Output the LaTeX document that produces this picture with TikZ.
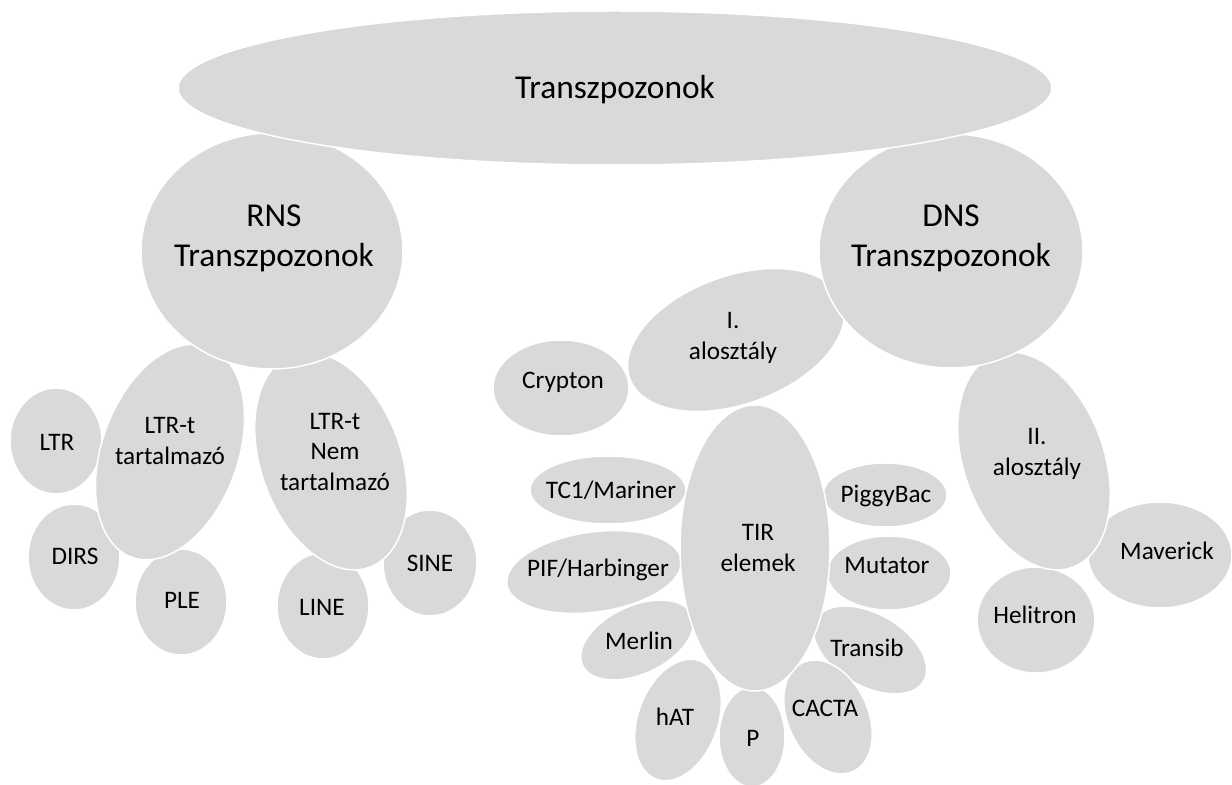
\documentclass[tikz,border=0pt]{standalone}
\usepackage{fontspec}
\setmainfont{Carlito}
\definecolor{boxgray}{HTML}{D9D9D9}
\tikzset{
  blob/.style={fill=boxgray, draw=white, line width=0.75pt},
  bigtxt/.style={font=\fontsize{16.7}{20}\selectfont, align=center, inner sep=0pt, text=black},
  smalltxt/.style={font=\fontsize{12.6}{15.4}\selectfont, align=center, inner sep=0pt, text=black}
}
\newcommand{\blobat}[5]{\path[blob, rotate around={#5:(#1,#2)}] (#1,#2) ellipse [x radius=#3, y radius=#4];}
\begin{document}
\begin{tikzpicture}[x=0.5pt, y=-0.5pt]
\useasboundingbox (0,0) rectangle (1232,785);
% satellites (left)
\blobat{56}{441}{46}{53}{0}
\blobat{74}{557}{46}{53}{0}
\blobat{181}{602}{46}{53}{0}
\blobat{323}{606}{46}{53}{0}
\blobat{430}{563}{47}{53}{0}
% second level left
\blobat{170}{452}{68}{112}{-20}
\blobat{331}{461}{70}{113}{20}
% TIR satellites
\blobat{561}{388}{68}{48}{0}
\blobat{608}{490}{78}{34}{0}
\blobat{594}{572}{88}{40}{8}
\blobat{885}{495}{62}{32}{0}
\blobat{889}{573}{62}{37}{0}
\blobat{637}{640}{60}{34}{25}
\blobat{870}{650}{62}{36}{-30}
\blobat{678}{720}{40}{63}{-20}
\blobat{752}{737}{33}{50}{0}
\blobat{828}{717}{40}{60}{25}
\blobat{755}{548}{75}{143}{0}
% right
\blobat{1160}{555}{72}{53}{0}
\blobat{1036}{620}{59}{53}{0}
\blobat{1034}{461}{70}{113}{20}
\blobat{736}{340}{113}{64}{20}
% top levels
\blobat{272}{251}{131}{118}{0}
\blobat{951}{251}{132}{117}{0}
\blobat{615}{88}{437}{77}{0}
% texts
\node[bigtxt] (root) at (615,90) {Transzpozonok};
\node[bigtxt] (rns) at (274,238) {RNS\\Transzpozonok};
\node[bigtxt] (dns) at (951,238) {DNS\\Transzpozonok};
\node[smalltxt] (ltrt) at (170,441) {LTR-t\\tartalmazó};
\node[smalltxt] (ltrnem) at (335,452) {LTR-t\\Nem\\tartalmazó};
\node[smalltxt] (ltr) at (57,442) {LTR};
\node[smalltxt] (dirs) at (75,556) {DIRS};
\node[smalltxt] (ple) at (182,600) {PLE};
\node[smalltxt] (line) at (322,607) {LINE};
\node[smalltxt] (sine) at (430,563) {SINE};
\node[smalltxt] (alo1) at (733,338) {I.\\alosztály};
\node[smalltxt] (crypton) at (563,382) {Crypton};
\node[smalltxt] (tir) at (758,548) {TIR\\elemek};
\node[smalltxt] (tc1) at (611,490) {TC1/Mariner};
\node[smalltxt] (pif) at (598,570) {PIF/Harbinger};
\node[smalltxt] (piggy) at (886,496) {PiggyBac};
\node[smalltxt] (mutator) at (887,566) {Mutator};
\node[smalltxt] (merlin) at (639,641) {Merlin};
\node[smalltxt] (transib) at (867,648) {Transib};
\node[smalltxt] (hat) at (675,717) {hAT};
\node[smalltxt] (p) at (753,738) {P};
\node[smalltxt] (cacta) at (825,708) {CACTA};
\node[smalltxt] (alo2) at (1037,454) {II.\\alosztály};
\node[smalltxt] (maverick) at (1167,551) {Maverick};
\node[smalltxt] (helitron) at (1035,615) {Helitron};
\end{tikzpicture}
\end{document}
